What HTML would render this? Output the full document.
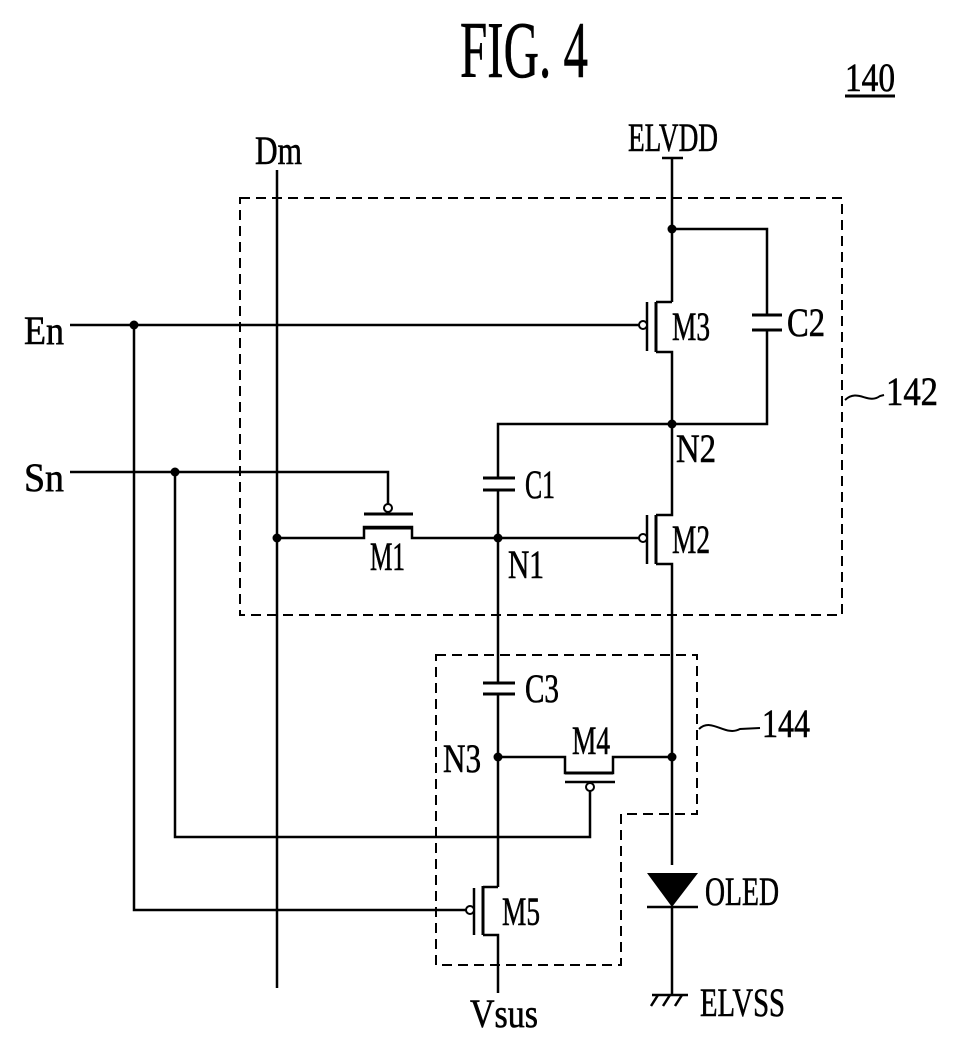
<!DOCTYPE html>
<html><head><meta charset="utf-8"><style>
html,body{margin:0;padding:0;background:#fff;}
svg{display:block;}
text{font-family:"Liberation Serif",serif;fill:#000;stroke:#000;stroke-width:0.6;}
</style></head><body>
<svg width="969" height="1051" viewBox="0 0 969 1051" xmlns="http://www.w3.org/2000/svg">
<g stroke="#000" stroke-width="2.5" fill="none">
<line x1="277" y1="170" x2="277" y2="988"/>
<line x1="662" y1="158" x2="683" y2="158"/>
<line x1="672" y1="158" x2="672" y2="302"/>
<polyline points="672,229 767,229 767,315"/>
<polyline points="767,330 767,424 498,424 498,478"/>
<line x1="752" y1="315" x2="782" y2="315" stroke-width="3"/>
<line x1="752" y1="330" x2="782" y2="330" stroke-width="3"/>
<line x1="70" y1="325" x2="639" y2="325"/>
<line x1="647" y1="302" x2="647" y2="351"/>
<line x1="656" y1="302" x2="656" y2="352" stroke-width="3"/>
<polyline points="672,302 656,302"/>
<polyline points="656,352 672,352 672,515 656,515"/>
<line x1="647" y1="515" x2="647" y2="564"/>
<line x1="656" y1="515" x2="656" y2="564" stroke-width="3"/>
<polyline points="656,564 672,564 672,865"/>
<line x1="498" y1="538" x2="639" y2="538"/>
<line x1="483" y1="478" x2="515" y2="478" stroke-width="3"/>
<line x1="483" y1="490" x2="515" y2="490" stroke-width="3"/>
<line x1="498" y1="490" x2="498" y2="683"/>
<polyline points="277,538 364,538 364,527 412,527 412,538 498,538"/>
<line x1="364" y1="528" x2="412" y2="528" stroke-width="3"/>
<line x1="364" y1="514" x2="413" y2="514" stroke-width="3"/>
<polyline points="388,504 388,472 70,472"/>
<line x1="483" y1="683" x2="515" y2="683" stroke-width="3"/>
<line x1="483" y1="694" x2="515" y2="694" stroke-width="3"/>
<line x1="498" y1="694" x2="498" y2="887"/>
<polyline points="498,757 565,757 565,773 613,773 613,757 672,757"/>
<line x1="565" y1="773" x2="613" y2="773" stroke-width="3"/>
<line x1="565" y1="782" x2="615" y2="782"/>
<polyline points="590,791 590,837 175,837 175,472"/>
<polyline points="134,325 134,910 466,910"/>
<line x1="474" y1="888" x2="474" y2="935"/>
<line x1="483" y1="886" x2="483" y2="935" stroke-width="3"/>
<polyline points="483,887 498,887"/>
<polyline points="483,935 498,935 498,993"/>
<line x1="647" y1="907" x2="698" y2="907"/>
<line x1="672" y1="907" x2="672" y2="995"/>
<line x1="652" y1="995" x2="688" y2="995"/>
<line x1="658" y1="995" x2="651" y2="1006"/>
<line x1="670" y1="995" x2="663" y2="1006"/>
<line x1="682" y1="995" x2="675" y2="1006"/>
<rect x="240" y="198" width="602" height="417" stroke-width="2" stroke-dasharray="10,6"/>
<polygon points="436,655 697,655 697,814 621,814 621,965 436,965" stroke-width="2" stroke-dasharray="10,6"/>
<path d="M845,400 C858,388 868,405 880,396 L884,395" stroke-width="2"/>
<path d="M699,729 C712,717 725,737 740,729 L760,728" stroke-width="2"/>
</g>
<g stroke="#000" stroke-width="2" fill="#fff">
<circle cx="643" cy="325" r="4"/>
<circle cx="643" cy="538" r="4"/>
<circle cx="388" cy="508" r="4"/>
<circle cx="590" cy="787" r="4"/>
<circle cx="470" cy="910" r="4"/>
</g>
<g fill="#000">
<circle cx="672" cy="229" r="4.5"/>
<circle cx="672" cy="424" r="4.5"/>
<circle cx="498" cy="538" r="4.5"/>
<circle cx="277" cy="538" r="4.5"/>
<circle cx="134" cy="325" r="4.5"/>
<circle cx="175" cy="472" r="4.5"/>
<circle cx="498" cy="757" r="4.5"/>
<circle cx="672" cy="757" r="4.5"/>
<polygon points="647,873 698,873 672,907"/>
</g>
<line x1="845" y1="96" x2="895" y2="96" stroke="#000" stroke-width="3"/>
<g font-size="40">
<text x="460" y="77" font-size="80" textLength="128" lengthAdjust="spacingAndGlyphs">FIG. 4</text>
<text x="845" y="91" textLength="50" lengthAdjust="spacingAndGlyphs">140</text>
<text x="255" y="164" textLength="47" lengthAdjust="spacingAndGlyphs">Dm</text>
<text x="628" y="151" textLength="90" lengthAdjust="spacingAndGlyphs">ELVDD</text>
<text x="24" y="344" textLength="40" lengthAdjust="spacingAndGlyphs">En</text>
<text x="24" y="491" textLength="40" lengthAdjust="spacingAndGlyphs">Sn</text>
<text x="672" y="340" textLength="38" lengthAdjust="spacingAndGlyphs">M3</text>
<text x="787" y="336" textLength="38" lengthAdjust="spacingAndGlyphs">C2</text>
<text x="886" y="405" textLength="52" lengthAdjust="spacingAndGlyphs">142</text>
<text x="676" y="462" textLength="40" lengthAdjust="spacingAndGlyphs">N2</text>
<text x="525" y="498" textLength="30" lengthAdjust="spacingAndGlyphs">C1</text>
<text x="672" y="553" textLength="38" lengthAdjust="spacingAndGlyphs">M2</text>
<text x="370" y="570" textLength="35" lengthAdjust="spacingAndGlyphs">M1</text>
<text x="508" y="578" textLength="36" lengthAdjust="spacingAndGlyphs">N1</text>
<text x="525" y="702" textLength="34" lengthAdjust="spacingAndGlyphs">C3</text>
<text x="762" y="737" textLength="48" lengthAdjust="spacingAndGlyphs">144</text>
<text x="572" y="754" textLength="38" lengthAdjust="spacingAndGlyphs">M4</text>
<text x="443" y="772" textLength="38" lengthAdjust="spacingAndGlyphs">N3</text>
<text x="705" y="905" textLength="74" lengthAdjust="spacingAndGlyphs">OLED</text>
<text x="502" y="925" textLength="38" lengthAdjust="spacingAndGlyphs">M5</text>
<text x="470" y="1027" textLength="68" lengthAdjust="spacingAndGlyphs">Vsus</text>
<text x="700" y="1016" textLength="85" lengthAdjust="spacingAndGlyphs">ELVSS</text>
</g>
</svg>
</body></html>
